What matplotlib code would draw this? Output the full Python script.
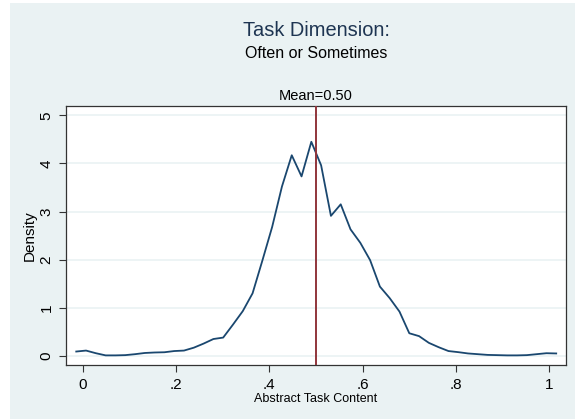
import numpy as np
import matplotlib
matplotlib.use('Agg')
import matplotlib.pyplot as plt
from matplotlib.patches import Rectangle

plt.rcParams['font.family'] = ['Liberation Sans', 'DejaVu Sans']

# kernel density estimate
x_vals = [-0.014, 0.007, 0.028, 0.049, 0.070, 0.091, 0.112, 0.133, 0.154, 0.175,
          0.196, 0.217, 0.238, 0.259, 0.280, 0.301, 0.322, 0.343, 0.364, 0.385,
          0.406, 0.427, 0.448, 0.469, 0.490, 0.511, 0.532, 0.553, 0.574, 0.595,
          0.616, 0.637, 0.658, 0.679, 0.700, 0.721, 0.742, 0.763, 0.784, 0.805,
          0.826, 0.847, 0.868, 0.889, 0.910, 0.931, 0.952, 0.973, 0.994, 1.015]
density = [0.09, 0.11, 0.055, 0.01, 0.01, 0.015, 0.035, 0.06, 0.07, 0.075,
           0.10, 0.11, 0.17, 0.255, 0.35, 0.38, 0.65, 0.93, 1.30, 1.98,
           2.68, 3.52, 4.17, 3.73, 4.45, 3.96, 2.91, 3.15, 2.63, 2.35,
           1.99, 1.44, 1.20, 0.92, 0.47, 0.41, 0.27, 0.18, 0.10, 0.077,
           0.05, 0.035, 0.02, 0.015, 0.01, 0.01, 0.015, 0.035, 0.055, 0.05]
mean_val = 0.50

x_ticks = [0, 0.2, 0.4, 0.6, 0.8, 1.0]
x_ticklabels = ['0', '.2', '.4', '.6', '.8', '1']
y_ticks = [0, 1, 2, 3, 4, 5]

bg = '#eaf2f3'
fig = plt.figure(figsize=(5.75, 4.19), dpi=100)
fig.patch.set_facecolor('white')
fig.patches.append(Rectangle((10 / 575, 0), 1, 416 / 419, transform=fig.transFigure,
                             facecolor=bg, edgecolor='none', zorder=-10))

ax = fig.add_axes([66 / 575, 54 / 419, 500 / 575, 259.3 / 419])
ax.set_facecolor('white')
for y in y_ticks:
    ax.axhline(y, color=bg, lw=1.2, zorder=0)
ax.plot(x_vals, density, color='#1a476f', lw=1.3, zorder=2)
ax.axvline(mean_val, color='#90353b', lw=1.4, zorder=3)

ax.set_xlim(-0.036, 1.036)
ax.set_ylim(-0.19, 5.2)
ax.set_xticks(x_ticks)
ax.set_xticklabels(x_ticklabels, fontsize=11)
ax.set_yticks(y_ticks)
ax.set_yticklabels([str(v) for v in y_ticks], fontsize=11, rotation=90, va='center')
ax.tick_params(direction='out', length=5, width=0.8, color='#333333', pad=4)
for s in ax.spines.values():
    s.set_color('#333333')
    s.set_linewidth(0.9)

ax.set_xlabel('Abstract Task Content', fontsize=9, labelpad=1)
ax.set_ylabel('Density', fontsize=11, labelpad=2)

fig.text(0.55, 1 - 31 / 419, 'Task Dimension:', ha='center', va='center',
         fontsize=14.4, color='#1e3552')
fig.text(0.55, 1 - 54 / 419, 'Often or Sometimes', ha='center', va='center',
         fontsize=11.5, color='black')
ax.text(mean_val, 1.01, 'Mean=0.50', transform=ax.get_xaxis_transform(),
        ha='center', va='bottom', fontsize=10.5, color='black')

fig.savefig('out.png', dpi=100, facecolor=fig.get_facecolor())
